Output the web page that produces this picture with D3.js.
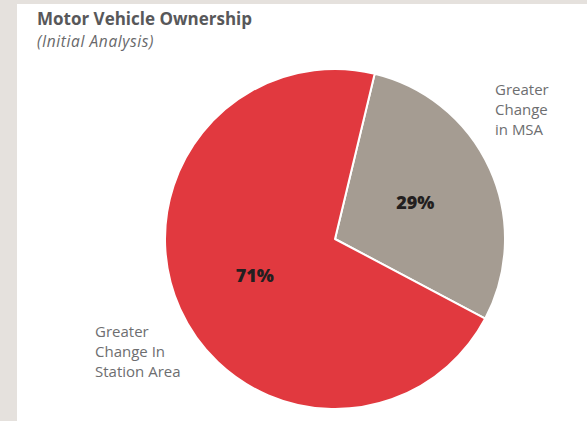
<!DOCTYPE html>
<html>
<head>
<meta charset="utf-8">
<script src="https://cdn.jsdelivr.net/npm/d3@7"></script>
<style>
  html, body { margin: 0; padding: 0; background: #fff; }
  svg { display: block; }
</style>
</head>
<body>
<svg id="chart" width="587" height="421"></svg>
<script>
// Chart data
const categories = ["Greater Change in MSA", "Greater Change in Station Area"];
const values = [29, 71];
const sliceColors = ["#a59c92", "#e1393f"];
// Outer category labels, split into lines
const labelLines = [["Greater", "Change", "in MSA"], ["Greater", "Change In", "Station Area"]];

const W = 587, H = 421;
const svg = d3.select("#chart");

// Page frame: light band on left and top
svg.append("rect").attr("x", 0).attr("y", 0).attr("width", W).attr("height", H).attr("fill", "#e5e1dd");
svg.append("rect").attr("x", 17).attr("y", 4).attr("width", W - 17).attr("height", H - 4).attr("fill", "#ffffff");

// Title
svg.append("text")
  .attr("x", 37).attr("y", 25)
  .attr("font-family", "Open Sans, sans-serif")
  .attr("font-weight", 700)
  .attr("font-size", 17)
  .attr("fill", "#58585a")
  .text("Motor Vehicle Ownership");
svg.append("text")
  .attr("x", 37).attr("y", 47)
  .attr("font-family", "Open Sans, sans-serif")
  .attr("font-style", "italic")
  .attr("font-size", 15.5)
  .attr("letter-spacing", 0.6)
  .attr("fill", "#68686a")
  .text("(Initial Analysis)");

// Pie
const cx = 335, cy = 239, R = 170;
const startAngle = 13.5 * Math.PI / 180;
const pie = d3.pie().sort(null)
  .startAngle(startAngle).endAngle(startAngle + 2 * Math.PI);
const arcs = pie(values);
const arc = d3.arc().innerRadius(0).outerRadius(R);
const labelArc = d3.arc().innerRadius(88).outerRadius(88);

const g = svg.append("g").attr("transform", `translate(${cx},${cy})`);
g.selectAll("path.slice")
  .data(arcs)
  .join("path")
  .attr("class", "slice")
  .attr("d", arc)
  .attr("fill", (d, i) => sliceColors[i])
  .attr("stroke", "#ffffff")
  .attr("stroke-width", 2)
  .attr("stroke-linejoin", "round");

// Percentage labels inside slices
g.selectAll("text.pct")
  .data(arcs)
  .join("text")
  .attr("class", "pct")
  .attr("transform", d => `translate(${labelArc.centroid(d)})`)
  .attr("text-anchor", "middle")
  .attr("dy", "0.36em")
  .attr("font-family", "Open Sans, sans-serif")
  .attr("font-weight", 800)
  .attr("font-size", 18)
  .attr("fill", "#231f20")
  .text(d => d.data + "%");

// Category labels outside the pie
const labelAnchors = [[495, 95], [95, 337]];
const lineGap = 20;
labelLines.forEach((lines, i) => {
  const t = svg.append("text")
    .attr("font-family", "Open Sans, sans-serif")
    .attr("font-size", 15)
    .attr("fill", "#6d6e70")
    .attr("aria-label", categories[i]);
  lines.forEach((ln, j) => {
    t.append("tspan")
      .attr("x", labelAnchors[i][0])
      .attr("y", labelAnchors[i][1] + j * lineGap)
      .text(ln);
  });
});
</script>
</body>
</html>
